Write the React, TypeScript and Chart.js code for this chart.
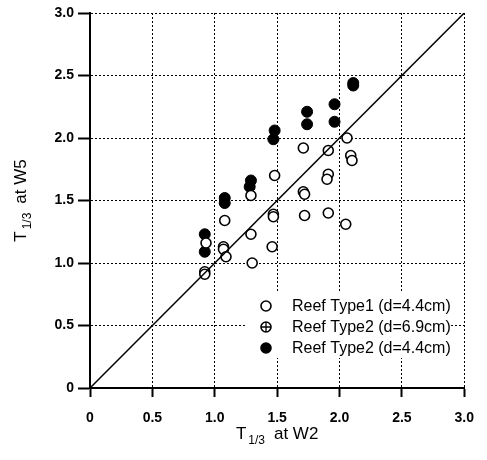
import React, { useEffect, useRef } from 'react';
import { Chart, registerables } from 'chart.js';

Chart.register(...registerables);

// Reef Type1 (d=4.4cm) — open circles
const type1X = [0.93, 1.08, 1.09, 1.29, 1.30, 1.48, 1.46, 1.71, 1.72, 1.91, 1.91, 2.06, 2.05];
const type1Y = [1.16, 1.34, 1.05, 1.54, 1.00, 1.70, 1.13, 1.92, 1.38, 1.90, 1.40, 2.00, 1.31];

// Reef Type2 (d=6.9cm) — crossed circles
const type2bigX = [0.92, 0.92, 1.07, 1.07, 1.29, 1.47, 1.47, 1.71, 1.72, 1.91, 1.90, 2.09, 2.10];
const type2bigY = [0.93, 0.91, 1.13, 1.11, 1.23, 1.39, 1.37, 1.57, 1.55, 1.71, 1.67, 1.86, 1.82];

// Reef Type2 (d=4.4cm) — filled circles
const type2smallX = [0.92, 0.92, 1.08, 1.08, 1.29, 1.28, 1.48, 1.47, 1.74, 1.74, 1.96, 1.96, 2.11, 2.11];
const type2smallY = [1.23, 1.09, 1.52, 1.48, 1.66, 1.61, 2.06, 1.99, 2.21, 2.11, 2.27, 2.13, 2.44, 2.42];

// 1:1 reference line
const diagonalEnds = [0, 3];

const legendLabels = ['Reef Type1 (d=4.4cm)', 'Reef Type2 (d=6.9cm)', 'Reef Type2 (d=4.4cm)'];
const xTitle = { main: 'T', sub: '1/3', rest: 'at W2' };
const yTitle = { main: 'T', sub: '1/3', rest: 'at W5' };

const FONT = '"Liberation Sans", Arial, Helvetica, sans-serif';

const zip = (xs: number[], ys: number[]) => xs.map((x, i) => ({ x, y: ys[i] }));

function drawComposite(ctx: CanvasRenderingContext2D, t: { main: string; sub: string; rest: string }, cx: number, cy: number) {
  const big = `17px ${FONT}`;
  const small = `12px ${FONT}`;
  ctx.font = big;
  const wM = ctx.measureText(t.main).width;
  const wR = ctx.measureText(t.rest).width;
  ctx.font = small;
  const wS = ctx.measureText(t.sub).width;
  const gap1 = 2;
  const gap2 = 9;
  const total = wM + gap1 + wS + gap2 + wR;
  let x = cx - total / 2;
  ctx.textAlign = 'left';
  ctx.textBaseline = 'alphabetic';
  ctx.fillStyle = '#000';
  ctx.font = big;
  ctx.fillText(t.main, x, cy);
  x += wM + gap1;
  ctx.font = small;
  ctx.fillText(t.sub, x, cy + 5);
  x += wS + gap2;
  ctx.font = big;
  ctx.fillText(t.rest, x, cy);
}

const decorPlugin = {
  id: 'decor',
  beforeDatasetsDraw(chart: any) {
    const { ctx, chartArea } = chart;
    ctx.save();
    // legend box
    const bx = chartArea.left + 157;
    const by = chartArea.bottom - 95;
    ctx.fillStyle = '#fff';
    ctx.fillRect(bx, by, 203, 65);
    const mx = chartArea.left + 176;
    const rows = [chartArea.bottom - 82, chartArea.bottom - 61, chartArea.bottom - 40];
    rows.forEach((ry: number, i: number) => {
      ctx.beginPath();
      ctx.arc(mx, ry, 5, 0, Math.PI * 2);
      ctx.lineWidth = 1.6;
      ctx.strokeStyle = '#000';
      ctx.fillStyle = i === 2 ? '#000' : '#fff';
      ctx.fill();
      ctx.stroke();
      if (i === 1) {
        ctx.beginPath();
        ctx.moveTo(mx - 5, ry);
        ctx.lineTo(mx + 5, ry);
        ctx.moveTo(mx, ry - 5);
        ctx.lineTo(mx, ry + 5);
        ctx.lineWidth = 1.3;
        ctx.stroke();
      }
      ctx.fillStyle = '#000';
      ctx.font = `16px ${FONT}`;
      ctx.textAlign = 'left';
      ctx.textBaseline = 'middle';
      ctx.fillText(legendLabels[i], chartArea.left + 202, ry + 1);
    });
    ctx.restore();
  },
  afterDraw(chart: any) {
    const { ctx, chartArea } = chart;
    ctx.save();
    drawComposite(ctx, xTitle, (chartArea.left + chartArea.right) / 2, 439);
    ctx.translate(26, (chartArea.top + chartArea.bottom) / 2);
    ctx.rotate(-Math.PI / 2);
    drawComposite(ctx, yTitle, 0, 0);
    ctx.restore();
  },
};

export default function App() {
  const ref = useRef<HTMLCanvasElement | null>(null);

  useEffect(() => {
    document.body.style.margin = '0';
    const canvas = ref.current;
    if (!canvas) return;
    const tickCb = (v: any) => (Number(v) === 0 ? '0' : Number(v).toFixed(1));
    const axisCommon = (tickLength: number, padding: number) => ({
      type: 'linear' as const,
      min: 0,
      max: 3,
      grid: {
        color: '#000',
        lineWidth: 1,
        drawTicks: true,
        tickLength,
        tickColor: '#000',
        tickWidth: 2,
        tickBorderDash: [],
      },
      border: { display: true, color: '#000', width: 2, dash: [2, 2] },
      ticks: {
        stepSize: 0.5,
        callback: tickCb,
        color: '#000',
        padding,
        font: { family: FONT, size: 14, weight: 'bold' as const },
      },
    });
    const chart = new Chart(canvas, {
      type: 'scatter',
      data: {
        datasets: [
          {
            type: 'line',
            label: 'diag',
            data: zip(diagonalEnds, diagonalEnds),
            borderColor: '#000',
            borderWidth: 1.5,
            pointRadius: 0,
            showLine: true,
            fill: false,
          } as any,
          {
            label: legendLabels[0],
            data: zip(type1X, type1Y),
            pointStyle: 'circle',
            pointRadius: 5,
            backgroundColor: '#fff',
            borderColor: '#000',
            borderWidth: 1.6,
          },
          {
            label: legendLabels[1],
            data: zip(type2bigX, type2bigY),
            pointStyle: 'circle',
            pointRadius: 5,
            backgroundColor: '#fff',
            borderColor: '#000',
            borderWidth: 1.6,
          },
          {
            label: legendLabels[1] + ' cross',
            data: zip(type2bigX, type2bigY),
            pointStyle: 'cross',
            pointRadius: 5,
            borderColor: '#000',
            borderWidth: 1.3,
          },
          {
            label: legendLabels[2],
            data: zip(type2smallX, type2smallY),
            pointStyle: 'circle',
            pointRadius: 5.5,
            backgroundColor: '#000',
            borderColor: '#000',
            borderWidth: 1,
          },
        ],
      },
      options: {
        responsive: false,
        animation: false,
        layout: { padding: { top: 13, right: 19, left: 0, bottom: 0 } },
        plugins: { legend: { display: false }, tooltip: { enabled: false } },
        scales: {
          x: {
            ...axisCommon(9, 13),
            afterFit: (s: any) => { s.height = 72; },
          },
          y: {
            ...axisCommon(12, 4),
            afterFit: (s: any) => { s.width = 90; },
          },
        },
      } as any,
      plugins: [decorPlugin],
    });
    return () => chart.destroy();
  }, []);

  return (
    <div style={{ width: 487, height: 460 }}>
      <canvas ref={ref} width={487} height={460} />
    </div>
  );
}
